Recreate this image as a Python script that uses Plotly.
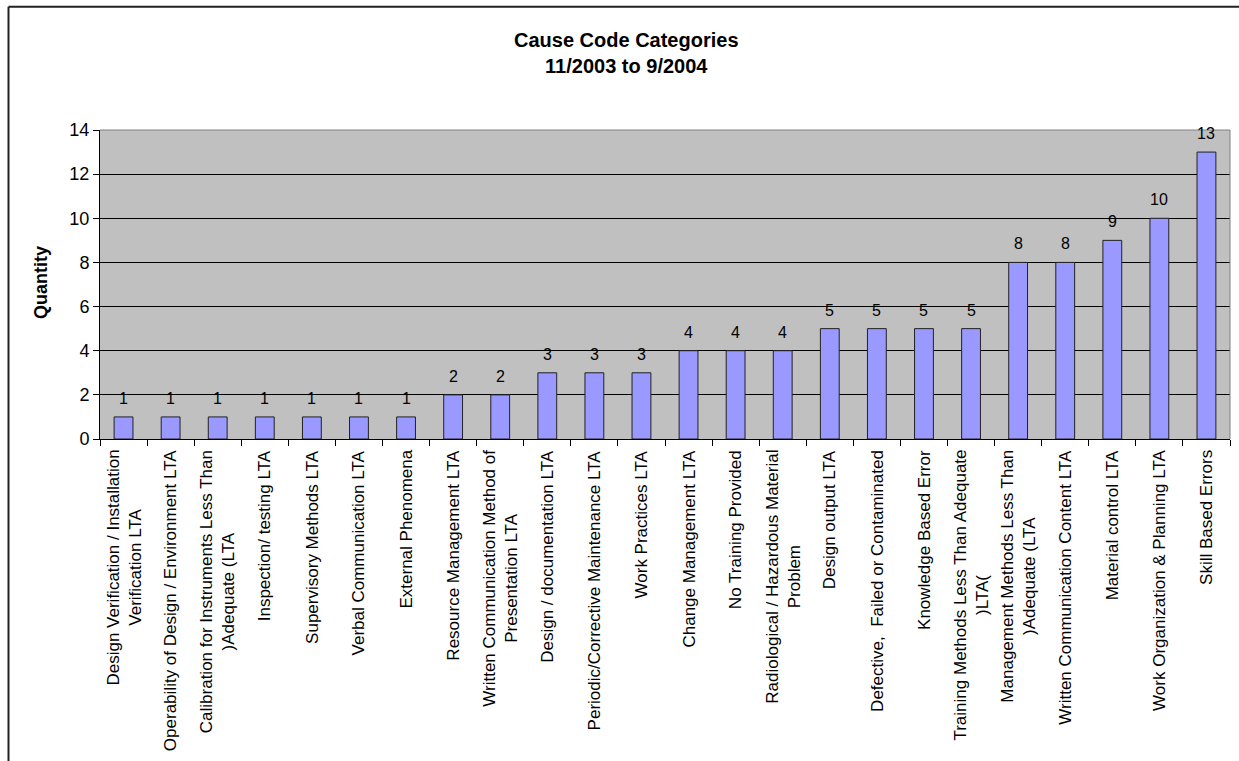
import plotly.graph_objects as go

# Cause code categories (multi-line labels use <br>)
categories = [
    "Design Verification / Installation<br>Verification LTA",
    "Operability of Design / Environment LTA",
    "Calibration for Instruments Less Than<br>)Adequate (LTA",
    "Inspection/ testing LTA",
    "Supervisory Methods LTA",
    "Verbal Communication LTA",
    "External Phenomena",
    "Resource Management LTA",
    "Written Communication Method of<br>Presentation LTA",
    "Design / documentation LTA",
    "Periodic/Corrective Maintenance LTA",
    "Work Practices LTA",
    "Change Management LTA",
    "No Training Provided",
    "Radiological / Hazardous Material<br>Problem",
    "Design output LTA",
    "Defective,  Failed or Contaminated",
    "Knowledge Based Error",
    "Training Methods Less Than Adequate<br>)LTA(",
    "Management Methods Less Than<br>)Adequate (LTA",
    "Written Communication Content LTA",
    "Material control LTA",
    "Work Organization & Planning LTA",
    "Skill Based Errors",
]
quantities = [1, 1, 1, 1, 1, 1, 1, 2, 2, 3, 3, 3, 4, 4, 4, 5, 5, 5, 5, 8, 8, 9, 10, 13]

y_ticks = [0, 2, 4, 6, 8, 10, 12, 14]

FONT = "Liberation Sans, Arial, sans-serif"

fig = go.Figure(
    go.Bar(
        x=categories,
        y=quantities,
        marker=dict(color="#9999FF", line=dict(color="#222222", width=1)),
        width=0.4,
        hoverinfo="x+y",
    )
)

annotations = []
# value labels above bars
for cat, q in zip(categories, quantities):
    annotations.append(dict(
        x=cat, y=q, xref="x", yref="y", text=str(q), showarrow=False,
        yanchor="bottom", yshift=8, font=dict(family=FONT, size=16, color="#000"),
    ))
# rotated category labels below the axis
for cat in categories:
    annotations.append(dict(
        x=cat, y=0, xref="x", yref="paper", text=cat, showarrow=False,
        textangle=-90, yanchor="top", xanchor="center", align="center", yshift=-9,
        font=dict(family=FONT, size=17, color="#000"),
    ))
# chart title
annotations.append(dict(
    x=(626 - 100) / 1130, y=1 + (130 - 53) / 309, xref="paper", yref="paper",
    text="<b>Cause Code Categories<br>11/2003 to 9/2004</b>", showarrow=False,
    xanchor="center", yanchor="middle", align="center",
    font=dict(family=FONT, size=20, color="#000"),
))
# y-axis title
annotations.append(dict(
    x=(41 - 100) / 1130, y=(439 - 283) / 309, xref="paper", yref="paper",
    text="<b>Quantity</b>", showarrow=False, textangle=-90,
    xanchor="center", yanchor="middle",
    font=dict(family=FONT, size=18, color="#000"),
))

FRAME_X = (8.5 - 100) / 1130
FRAME_Y = 1 + (130 - 6.7) / 309
shapes = [
    # outer chart frame (top and left edges)
    dict(type="line", xref="paper", yref="paper",
         x0=FRAME_X, x1=1.2, y0=FRAME_Y, y1=FRAME_Y,
         line=dict(color="#222222", width=2), layer="above"),
    dict(type="line", xref="paper", yref="paper",
         x0=FRAME_X, x1=FRAME_X, y0=-1.2, y1=FRAME_Y,
         line=dict(color="#222222", width=2), layer="above"),
    # gray top and right edges of the plot area
    dict(type="line", xref="paper", yref="paper", x0=0, x1=1, y0=1, y1=1,
         line=dict(color="#808080", width=1), layer="above"),
    dict(type="line", xref="paper", yref="paper", x0=1, x1=1, y0=0, y1=1,
         line=dict(color="#808080", width=1), layer="above"),
]

fig.update_layout(
    width=1239, height=761,
    margin=dict(l=100, r=9, t=130, b=322),
    paper_bgcolor="white",
    plot_bgcolor="#C0C0C0",
    showlegend=False,
    font=dict(family=FONT, size=16, color="#000"),
    annotations=annotations,
    shapes=shapes,
)
fig.update_xaxes(
    type="category",
    showticklabels=False,
    ticks="outside", ticklen=6, tickcolor="#000", tickson="boundaries",
    showline=True, linecolor="#000", linewidth=1,
    showgrid=False,
)
fig.update_yaxes(
    range=[0, 14], tickvals=y_ticks,
    ticks="outside", ticklen=6, tickcolor="#000",
    showline=True, linecolor="#000", linewidth=1,
    showgrid=True, gridcolor="#000", gridwidth=1,
    zeroline=False,
    tickfont=dict(family=FONT, size=18, color="#000"),
)

fig.write_html("out.html")
